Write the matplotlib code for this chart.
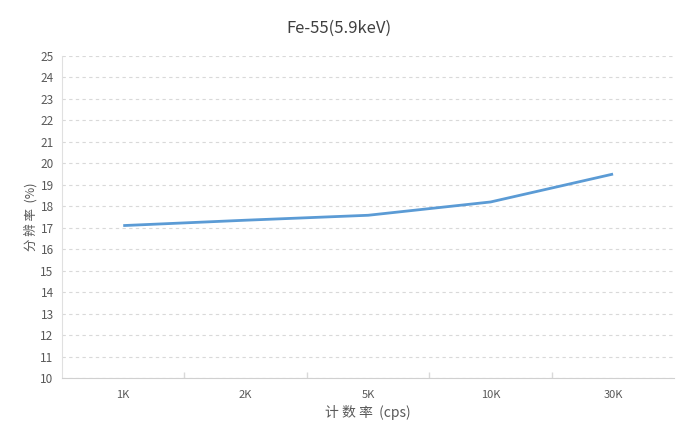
import matplotlib
matplotlib.use("Agg")
import matplotlib.pyplot as plt
import numpy as np

plt.rcParams['font.family'] = ['Noto Sans CJK SC', 'DejaVu Sans']

categories = ["1K", "2K", "5K", "10K", "30K"]
resolution = [17.1, 17.35, 17.58, 18.2, 19.5]
y_ticks = list(range(10, 26))

fig = plt.figure(figsize=(6.77, 4.29), dpi=100)
ax = fig.add_axes([0.0916, 0.1189, 0.9044, 0.7506])

x = np.arange(len(categories))
ax.plot(x, resolution, color="#5B9BD5", linewidth=2.0, solid_capstyle="butt")

ax.set_xlim(-0.5, len(categories) - 0.5)
ax.set_ylim(10, 25)
ax.set_yticks(y_ticks)
ax.set_yticklabels([str(v) for v in y_ticks], fontsize=8.5, color="#595959")
ax.set_xticks(x)
ax.set_xticklabels(categories, fontsize=8, color="#595959")
ax.tick_params(axis="x", length=0, pad=9)
ax.tick_params(axis="y", length=0, pad=6)
ax.set_xticks(np.arange(0.5, len(categories) - 0.5, 1.0), minor=True)
ax.tick_params(axis="x", which="minor", direction="in", length=4, color="#d9d9d9", width=1)

ax.grid(axis="y", which="major", linestyle=(0, (3, 3)), color="#d9d9d9", linewidth=0.8)
ax.set_axisbelow(True)
for s in ["top", "right"]:
    ax.spines[s].set_visible(False)
ax.spines["left"].set_color("#e0e0e0")
ax.spines["bottom"].set_color("#d0d0d0")

ax.set_xlabel("计 数 率  (cps)", fontsize=10, color="#595959", labelpad=3)
ax.set_ylabel("分 辨 率  (%)", fontsize=9, color="#595959", labelpad=2)
fig.text(0.5, 0.935, "Fe-55(5.9keV)", ha="center", va="center", fontsize=12, color="#404040")

fig.savefig("out.png", dpi=100, facecolor="white")
